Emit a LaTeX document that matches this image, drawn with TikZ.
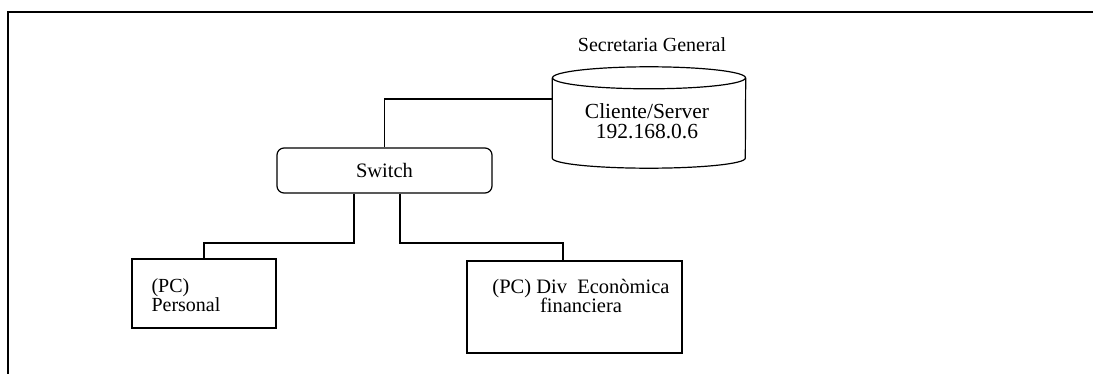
\documentclass[tikz,border=0pt]{standalone}
\usepackage{fontspec}
\setmainfont{Liberation Serif}
\begin{document}
\begin{tikzpicture}[x=1pt,y=-1pt,
  line/.style={line width=1.2pt},
  frame/.style={line width=1.6pt},
  pcbox/.style={draw,line width=1.2pt,rectangle},
  lbl/.style={font=\fontsize{20}{18.5}\selectfont}]
\useasboundingbox (0,0) rectangle (1093,374);
% outer frame
\coordinate (ftr) at (1093,12);
\coordinate (ftl) at (8,12);
\coordinate (fbl) at (8,374);
\draw[frame] (ftr) -- (ftl) -- (fbl);
% title
\node[lbl] (title) at (652,45) {Secretaria General};
% server cylinder
\node[minimum width=193pt,minimum height=80pt,inner sep=0pt] (server) at (649,118) {};
\draw[line] (server.north west) -- (server.south west)
  arc[start angle=180,end angle=360,x radius=96.5pt,y radius=10pt]
  -- (server.north east);
\draw[line] (server.north) ellipse[x radius=96.5pt,y radius=11pt];
\node[align=center,font=\fontsize{21.5}{20.5}\selectfont] (servertxt) at (647,121) {Cliente/Server\\192.168.0.6};
% switch
\node[draw,line,rounded corners=7pt,minimum width=215pt,minimum height=45pt,font=\fontsize{20.5}{18}\selectfont] (switch) at (384.5,170.5) {Switch};
% PCs
\node[pcbox,minimum width=144pt,minimum height=69pt] (pers) at (204,293.5) {};
\node[lbl,align=left,anchor=west] (perstxt) at (148,295) {(PC)\\Personal};
\node[pcbox,minimum width=215pt,minimum height=92pt] (div) at (574.5,307) {};
\node[font=\fontsize{20.5}{17.5}\selectfont,align=center] (divtxt) at (581,296) {(PC) Div\ \ Econòmica\\financiera};
% connectors
\draw[line] ([yshift=19pt]server.west) -| (switch.north);
\coordinate (j1) at (354,243);
\coordinate (j2) at (400,243);
\draw[line] ([xshift=-30.5pt]switch.south) -- (j1) -| (pers.north);
\draw[line] ([xshift=15.5pt]switch.south) -- (j2) -| ([xshift=-11.5pt]div.north);
\end{tikzpicture}
\end{document}
